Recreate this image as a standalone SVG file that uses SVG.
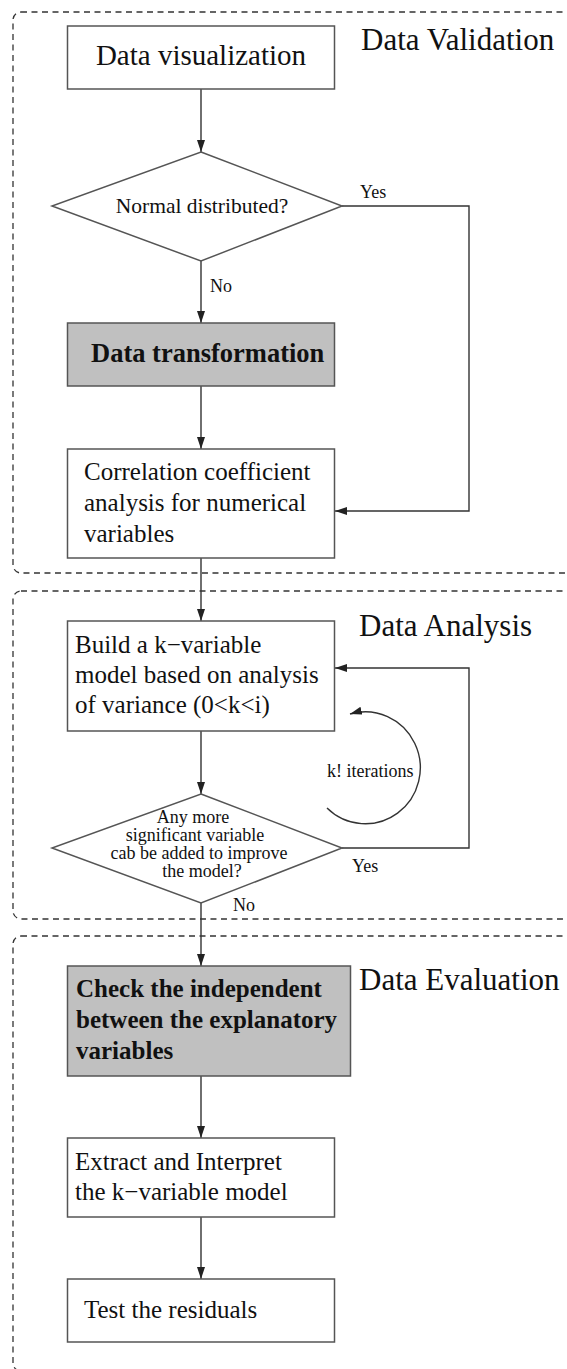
<svg xmlns="http://www.w3.org/2000/svg" width="567" height="1369" viewBox="0 0 567 1369">
  <defs>
    <marker id="arrow" viewBox="0 0 12 8" refX="12" refY="4" markerWidth="12" markerHeight="8" markerUnits="userSpaceOnUse" orient="auto">
      <path d="M0,0 L12,4 L0,8 Z" fill="#222"/>
    </marker>
    <style>
      .region { fill: none; stroke: #333; stroke-width: 1.3; stroke-dasharray: 6 4.5; }
      .box { fill: #fff; stroke: #555; stroke-width: 1.5; }
      .box.shaded { fill: #c0c0c0; }
      .edge { fill: none; stroke: #333; stroke-width: 1.4; }
      .txt { font-family: "Liberation Serif", "Times New Roman", serif; fill: #111; }
      .body { font-size: 25px; }
      .bold { font-size: 25px; font-weight: bold; }
      .title { font-size: 31px; }
      .small { font-size: 18px; }
      .dtext { font-size: 18px; }
    </style>
  </defs>

  <!-- stage regions -->
  <g id="regions">
    <rect id="region-validation" class="region" x="13" y="12" width="570" height="561" rx="8"/>
    <rect id="region-analysis" class="region" x="13" y="591" width="570" height="328" rx="8"/>
    <rect id="region-evaluation" class="region" x="13" y="936" width="570" height="435" rx="8"/>
    <text class="txt title" x="361" y="50">Data Validation</text>
    <text class="txt title" x="359" y="636">Data Analysis</text>
    <text class="txt title" x="359" y="990">Data Evaluation</text>
  </g>

  <!-- connectors -->
  <g id="connectors">
    <line class="edge" x1="201" y1="89" x2="201" y2="152" marker-end="url(#arrow)"/>
    <line class="edge" x1="201" y1="261" x2="201" y2="323" marker-end="url(#arrow)"/>
    <polyline class="edge" points="342,206 469,206 469,511 335,511" marker-end="url(#arrow)"/>
    <line class="edge" x1="201" y1="386" x2="201" y2="449" marker-end="url(#arrow)"/>
    <line class="edge" x1="201" y1="558" x2="201" y2="621" marker-end="url(#arrow)"/>
    <line class="edge" x1="201" y1="731" x2="201" y2="794" marker-end="url(#arrow)"/>
    <polyline class="edge" points="342,848 469,848 469,668 335,668" marker-end="url(#arrow)"/>
    <path class="edge" d="M327,808 A55,56 0 1 0 350,714" marker-end="url(#arrow)"/>
    <line class="edge" x1="201" y1="903" x2="201" y2="966" marker-end="url(#arrow)"/>
    <line class="edge" x1="201" y1="1076" x2="201" y2="1138" marker-end="url(#arrow)"/>
    <line class="edge" x1="201" y1="1217" x2="201" y2="1279" marker-end="url(#arrow)"/>
    <text class="txt small" x="360" y="198">Yes</text>
    <text class="txt small" x="210" y="292">No</text>
    <text class="txt small" x="327" y="777">k! iterations</text>
    <text class="txt small" x="352" y="872">Yes</text>
    <text class="txt small" x="233" y="911">No</text>
  </g>

  <!-- nodes -->
  <g id="node-visualization">
    <rect class="box" x="67.5" y="26" width="267" height="63"/>
    <text class="txt body" x="201" y="65" text-anchor="middle" style="font-size:29px">Data visualization</text>
  </g>

  <g id="node-normal">
    <polygon class="box" points="201,152 342,206 201,261 52,206"/>
    <text class="txt" x="202" y="213" text-anchor="middle" style="font-size:21.5px">Normal distributed?</text>
  </g>

  <g id="node-transformation">
    <rect class="box shaded" x="67.5" y="323" width="267" height="63"/>
    <text class="txt bold" x="91" y="362" style="font-size:26.5px">Data transformation</text>
  </g>

  <g id="node-correlation">
    <rect class="box" x="67.5" y="449" width="267" height="109"/>
    <text class="txt body" x="84" y="480">Correlation coefficient</text>
    <text class="txt body" x="84" y="511">analysis for numerical</text>
    <text class="txt body" x="84" y="542">variables</text>
  </g>

  <g id="node-build">
    <rect class="box" x="67.5" y="621" width="267" height="110"/>
    <text class="txt body" x="75" y="653">Build a k−variable</text>
    <text class="txt body" x="75" y="683">model based on analysis</text>
    <text class="txt body" x="75" y="713">of variance (0&lt;k&lt;i)</text>
  </g>

  <g id="node-significant">
    <polygon class="box" points="201,794 342,848 201,903 52,848"/>
    <text class="txt dtext" x="193" y="823" text-anchor="middle">Any more</text>
    <text class="txt dtext" x="195" y="841" text-anchor="middle">significant variable</text>
    <text class="txt dtext" x="199" y="859" text-anchor="middle">cab be added to improve</text>
    <text class="txt dtext" x="202" y="877" text-anchor="middle">the model?</text>
  </g>

  <g id="node-independent">
    <rect class="box shaded" x="67.5" y="966" width="283" height="110"/>
    <text class="txt bold" x="76" y="997">Check the independent</text>
    <text class="txt bold" x="76" y="1028">between the explanatory</text>
    <text class="txt bold" x="76" y="1059">variables</text>
  </g>

  <g id="node-extract">
    <rect class="box" x="67.5" y="1138" width="267" height="79"/>
    <text class="txt body" x="75" y="1170">Extract and Interpret</text>
    <text class="txt body" x="75" y="1200">the k−variable model</text>
  </g>

  <g id="node-residuals">
    <rect class="box" x="67.5" y="1279" width="267" height="63"/>
    <text class="txt body" x="84" y="1318">Test the residuals</text>
  </g>
</svg>
